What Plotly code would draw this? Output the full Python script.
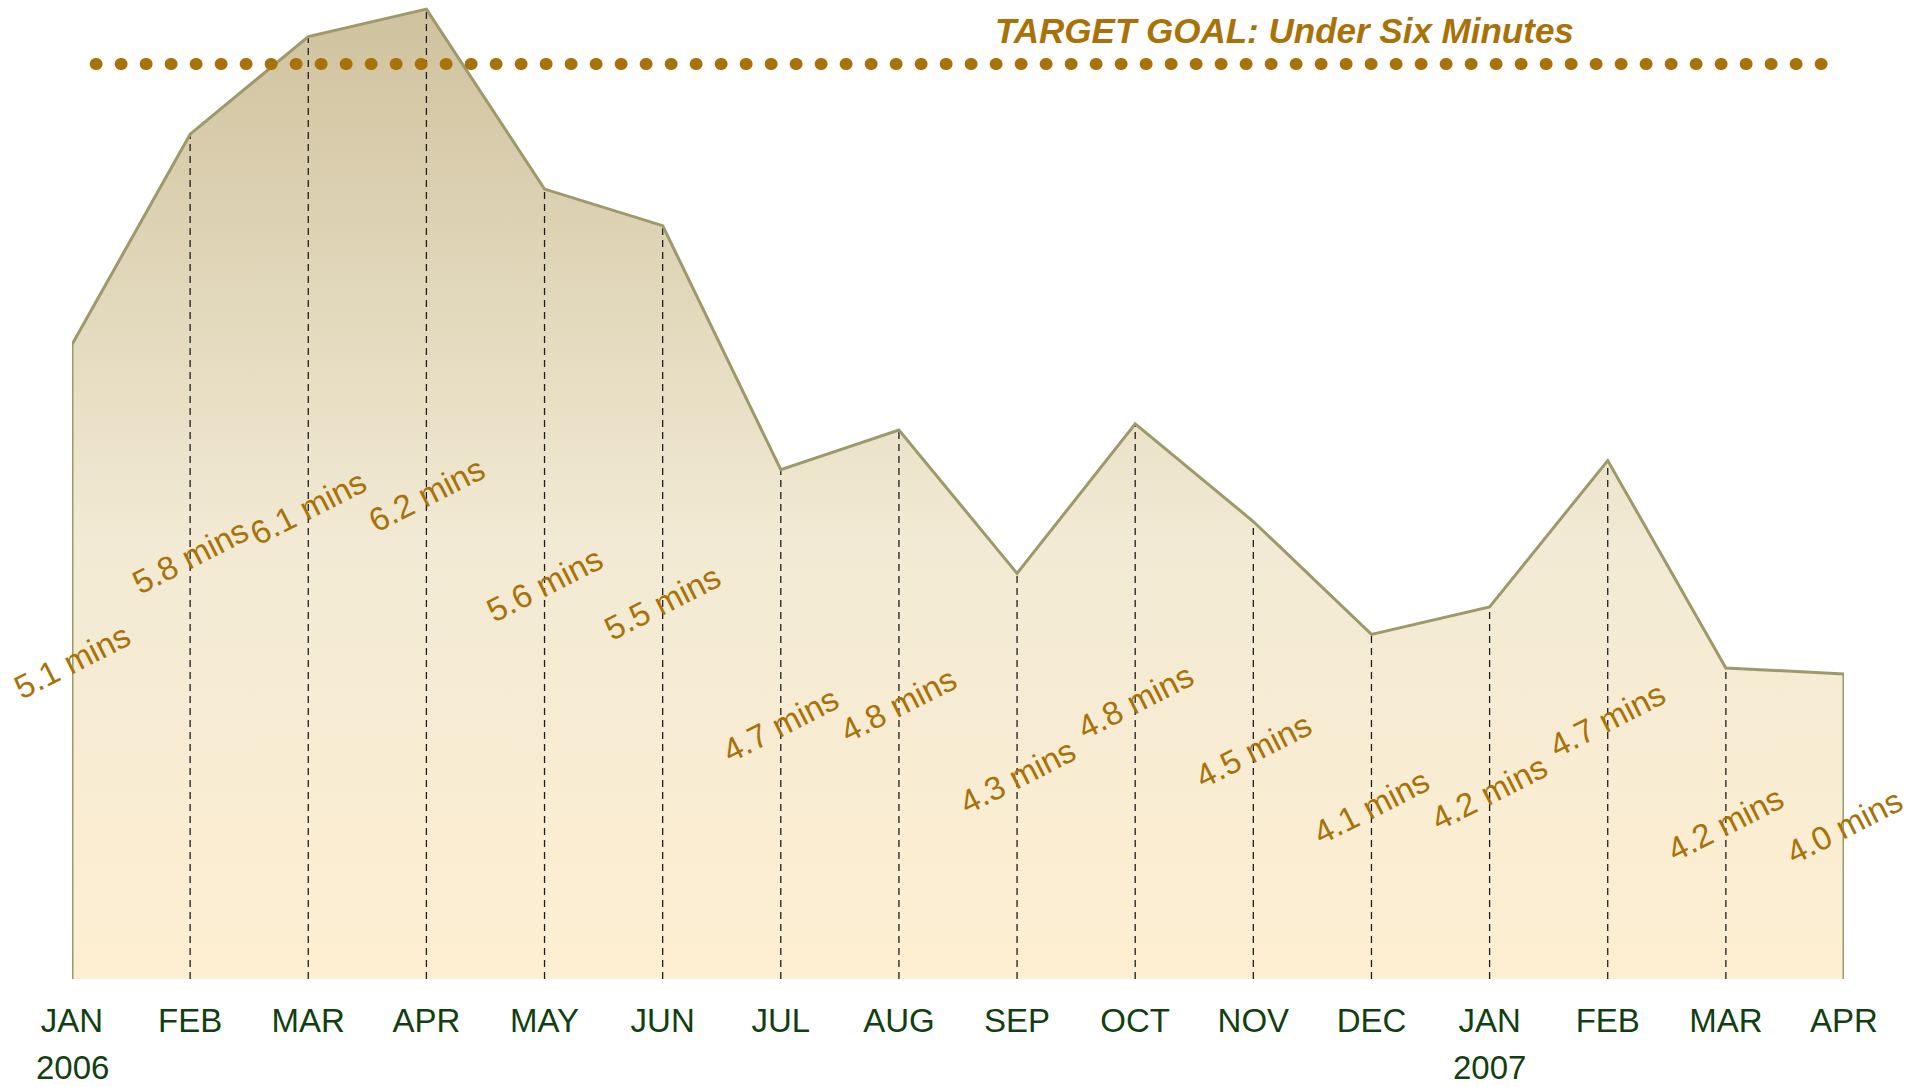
import plotly.graph_objects as go

# ---------------- data ----------------
months = ["JAN", "FEB", "MAR", "APR", "MAY", "JUN", "JUL", "AUG",
          "SEP", "OCT", "NOV", "DEC", "JAN", "FEB", "MAR", "APR"]
years = {0: "2006", 12: "2007"}
values = [5.08, 5.77, 6.09, 6.18, 5.59, 5.47, 4.67, 4.80,
          4.33, 4.82, 4.50, 4.13, 4.22, 4.70, 4.02, 4.00]
labels = ["5.1 mins", "5.8 mins", "6.1 mins", "6.2 mins", "5.6 mins", "5.5 mins",
          "4.7 mins", "4.8 mins", "4.3 mins", "4.8 mins", "4.5 mins", "4.1 mins",
          "4.2 mins", "4.7 mins", "4.2 mins", "4.0 mins"]
target_value = 6.0
target_text = "TARGET GOAL: Under Six Minutes"
y_min, y_max = 3.0, 6.21

# ---------------- styles ----------------
GOLD = "#A87208"
OLIVE = "#9C9A6A"
GREEN = "#123F12"
FONT = "Liberation Sans, Arial, sans-serif"

x = list(range(len(values)))
n = len(values)

fig = go.Figure()

# gradient area
poly_x = [x[0]] + x + [x[-1]]
poly_y = [y_min] + values + [y_min]
fig.add_trace(go.Scatter(
    x=poly_x, y=poly_y, mode="lines", fill="toself",
    line=dict(width=0, color="rgba(0,0,0,0)"),
    fillgradient=dict(type="vertical", start=y_min, stop=max(values),
                      colorscale=[[0, "#FEEFD2"], [0.45, "#F2EAD4"], [1, "#CFC29E"]]),
    hoverinfo="skip", showlegend=False,
))

# dashed drop lines
dx, dy = [], []
for xi, v in zip(x, values):
    dx += [xi, xi, None]
    dy += [y_min, v, None]
fig.add_trace(go.Scatter(
    x=dx, y=dy, mode="lines",
    line=dict(color="#1E1E1E", width=1.3, dash="7px,5px"),
    hoverinfo="skip", showlegend=False,
))

# outline of area
fig.add_trace(go.Scatter(
    x=poly_x, y=poly_y, mode="lines",
    line=dict(color=OLIVE, width=3),
    hoverinfo="skip", showlegend=False,
))

# target dotted line (round caps applied after render)
fig.add_shape(type="line", xref="x", yref="y", name="target",
              x0=0.2, x1=x[-1], y0=target_value, y1=target_value,
              line=dict(color=GOLD, width=12, dash="1px,24px"))

fig.add_annotation(x=0.684, xref="paper", y=target_value, yref="y",
                   xanchor="center", yanchor="middle",
                   text="<b><i>" + target_text + "</i></b>", showarrow=False,
                   yshift=34, font=dict(family=FONT, size=35, color=GOLD))

# data labels at half-height
for xi, v, t in zip(x, values, labels):
    fig.add_annotation(x=xi, y=(y_min + v) / 2, text=t, showarrow=False,
                       textangle=-27, font=dict(family=FONT, size=33, color=GOLD),
                       xanchor="center", yanchor="middle")

# year labels under the months
for i, yr in years.items():
    fig.add_annotation(x=i, y=y_min, text=yr, showarrow=False,
                       xanchor="center", yanchor="middle", yshift=-88,
                       font=dict(family=FONT, size=33, color=GREEN))

fig.update_layout(
    width=1912, height=1087,
    margin=dict(l=72, r=68, t=0, b=108),
    paper_bgcolor="white", plot_bgcolor="white",
    xaxis=dict(range=[0, n - 1], tickmode="array", tickvals=x, ticktext=months,
               showgrid=False, zeroline=False, showline=False,
               ticks="outside", ticklen=12, tickcolor="rgba(0,0,0,0)",
               tickfont=dict(family=FONT, size=33, color=GREEN)),
    yaxis=dict(range=[y_min, y_max], visible=False, showgrid=False, zeroline=False),
    showlegend=False,
)

post = """
document.body.style.margin='0';document.body.style.overflow='hidden';
function roundCaps(){
  document.querySelectorAll('.shapelayer path').forEach(function(p){
    p.style.strokeLinecap='round';
  });
}
roundCaps();
var gd=document.getElementById('{plot_id}');
if(gd && gd.on){gd.on('plotly_afterplot', roundCaps);}
setTimeout(roundCaps, 50);setTimeout(roundCaps, 300);
"""

fig.write_html("out.html", config={"displayModeBar": False}, post_script=post)
